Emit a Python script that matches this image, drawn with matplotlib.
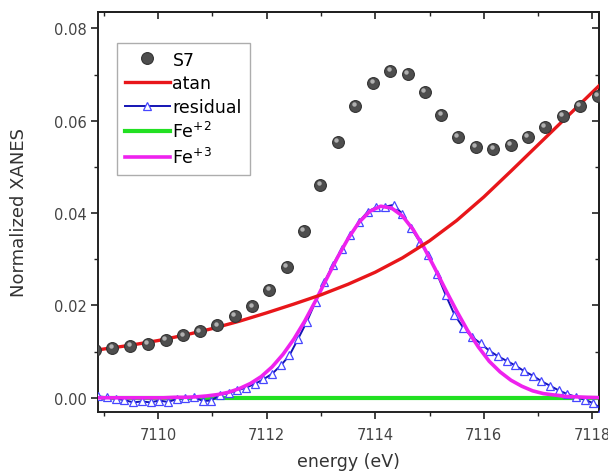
import matplotlib
matplotlib.use("Agg")
import matplotlib.pyplot as plt
from matplotlib.ticker import MultipleLocator
from matplotlib.transforms import offset_copy

plt.rcParams['font.family'] = ['DejaVu Sans']

# S7 data points
s7_e = [7108.83, 7109.15, 7109.49, 7109.81, 7110.14, 7110.46, 7110.77, 7111.09, 7111.41,
        7111.73, 7112.05, 7112.37, 7112.68, 7112.99, 7113.31, 7113.63, 7113.96, 7114.28,
        7114.60, 7114.91, 7115.22, 7115.52, 7115.85, 7116.17, 7116.50, 7116.81, 7117.12,
        7117.45, 7117.77, 7118.10]
s7_v = [0.0104, 0.0108, 0.0112, 0.0117, 0.0125, 0.0135, 0.0144, 0.0157, 0.0177,
        0.0198, 0.0233, 0.0284, 0.0361, 0.0462, 0.0555, 0.0632, 0.0683, 0.0709,
        0.0701, 0.0662, 0.0612, 0.0566, 0.0543, 0.0539, 0.0548, 0.0566, 0.0586,
        0.0610, 0.0632, 0.0654]

# atan background
atan_e = [7108.9, 7109.5, 7110.0, 7110.5, 7111.0, 7111.5, 7112.0, 7112.5, 7113.0, 7113.5,
          7114.0, 7114.5, 7115.0, 7115.5, 7116.0, 7116.5, 7117.0, 7117.5, 7118.0, 7118.15]
atan_v = [0.0104, 0.0114, 0.0124, 0.0136, 0.0150, 0.0166, 0.0184, 0.0203, 0.0223, 0.0246,
          0.0272, 0.0303, 0.0340, 0.0384, 0.0435, 0.0491, 0.0548, 0.0605, 0.0662, 0.0679]

# residual
res_e = [7108.90, 7109.06, 7109.22, 7109.38, 7109.54, 7109.70, 7109.86, 7110.02, 7110.18,
         7110.34, 7110.50, 7110.66, 7110.82, 7110.98, 7111.14, 7111.30, 7111.46, 7111.62,
         7111.78, 7111.94, 7112.10, 7112.26, 7112.42, 7112.58, 7112.74, 7112.90, 7113.06,
         7113.22, 7113.38, 7113.54, 7113.70, 7113.86, 7114.02, 7114.18, 7114.34, 7114.50,
         7114.66, 7114.82, 7114.98, 7115.14, 7115.30, 7115.46, 7115.62, 7115.78, 7115.94,
         7116.10, 7116.26, 7116.42, 7116.58, 7116.74, 7116.90, 7117.06, 7117.22, 7117.38,
         7117.54, 7117.70, 7117.86, 7118.02, 7118.18]
res_v = [0.0003, 0.0001, -0.0002, -0.0005, -0.0010, -0.0008, -0.0010, -0.0006, -0.0009,
         -0.0003, 0.0000, 0.0002, -0.0007, -0.0006, 0.0006, 0.0010, 0.0016, 0.0022,
         0.0030, 0.0040, 0.0052, 0.0070, 0.0092, 0.0128, 0.0165, 0.0208, 0.0250,
         0.0288, 0.0322, 0.0352, 0.0381, 0.0403, 0.0413, 0.0414, 0.0418, 0.0398,
         0.0368, 0.0338, 0.0310, 0.0268, 0.0222, 0.0180, 0.0152, 0.0132, 0.0118,
         0.0102, 0.0090, 0.0080, 0.0070, 0.0058, 0.0048, 0.0036, 0.0026, 0.0016,
         0.0008, 0.0002, -0.0004, -0.0012, -0.0025]

# Fe+2 component
fe2_e = [7108.9, 7118.2]
fe2_v = [0.0, 0.0]

# Fe+3 component
fe3_e = [7108.9, 7109.1, 7109.3, 7109.5, 7109.7, 7109.9, 7110.1, 7110.3, 7110.5, 7110.7,
         7110.9, 7111.1, 7111.3, 7111.5, 7111.7, 7111.9, 7112.1, 7112.3, 7112.5, 7112.7,
         7112.9, 7113.1, 7113.3, 7113.5, 7113.7, 7113.9, 7114.1, 7114.3, 7114.5, 7114.7,
         7114.9, 7115.1, 7115.3, 7115.5, 7115.7, 7115.9, 7116.1, 7116.3, 7116.5, 7116.7,
         7116.9, 7117.1, 7117.3, 7117.5, 7117.7, 7117.9, 7118.2]
fe3_v = [0.0, 0.0, 0.0, 0.0, 0.0, 0.0, 0.0, 0.0001, 0.0001, 0.0002,
         0.0004, 0.0007, 0.0012, 0.0020, 0.0031, 0.0046, 0.0067, 0.0094, 0.0127, 0.0166,
         0.0210, 0.0257, 0.0303, 0.0345, 0.0380, 0.0404, 0.0415, 0.0411, 0.0394, 0.0364,
         0.0325, 0.0280, 0.0233, 0.0188, 0.0146, 0.0110, 0.0079, 0.0056, 0.0038, 0.0025,
         0.0015, 0.0009, 0.0006, 0.0003, 0.0002, 0.0001, 0.0]

x_ticks = [7110, 7112, 7114, 7116, 7118]
y_ticks = [0.00, 0.02, 0.04, 0.06, 0.08]

fig = plt.figure(figsize=(6.08, 4.77), dpi=100)
ax = fig.add_axes([0.161, 0.134, 0.824, 0.839])

ax.plot(fe2_e, fe2_v, color='#22e022', lw=3, label='Fe$^{+2}$', zorder=2)
ax.plot(res_e, res_v, color='#1414b4', lw=1.4, marker='^', mfc='white', mec='#4646ff',
        ms=5.5, mew=0.9, label='residual', zorder=3)
ax.plot(fe3_e, fe3_v, color='#ee22ee', lw=2.6, label='Fe$^{+3}$', zorder=4)
ax.plot(atan_e, atan_v, color='#e8161a', lw=2.4, label='atan', zorder=5)
ax.plot(s7_e, s7_v, ls='none', marker='o', ms=8.5, mfc='#4e4e4e', mec='#333333', mew=0.8,
        label='S7', zorder=6)
hl = offset_copy(ax.transData, fig=fig, x=-1.5, y=1.8, units='dots')
ax.plot(s7_e, s7_v, ls='none', marker='o', ms=3.2, mfc='#b0b0b0', mec='none', zorder=7,
        transform=hl)

ax.set_xlim(7108.89, 7118.12)
ax.set_ylim(-0.0031, 0.0836)
ax.set_xticks(x_ticks)
ax.set_xticklabels([str(t) for t in x_ticks])
ax.set_yticks(y_ticks)
ax.set_yticklabels(['%.2f' % t for t in y_ticks])
ax.xaxis.set_minor_locator(MultipleLocator(1))
ax.yaxis.set_minor_locator(MultipleLocator(0.01))
ax.tick_params(which='both', direction='out', colors='#222222', labelcolor='#444444',
               labelsize=10.5)
ax.tick_params(axis='x', which='major', pad=6)
ax.tick_params(axis='y', which='major', pad=3)
ax.tick_params(which='major', length=5, width=1.2)
ax.tick_params(which='minor', length=3, width=1.0)
for s in ax.spines.values():
    s.set_linewidth(1.4)
    s.set_color('#222222')

secx = ax.secondary_xaxis('top')
secx.set_xticks(x_ticks)
secx.xaxis.set_minor_locator(MultipleLocator(1))
secx.tick_params(which='both', direction='in', labeltop=False, colors='#222222')
secx.tick_params(which='major', length=5, width=1.2)
secx.tick_params(which='minor', length=3, width=1.0)
secx.spines['top'].set_linewidth(1.4)
secy = ax.secondary_yaxis('right')
secy.set_yticks(y_ticks)
secy.yaxis.set_minor_locator(MultipleLocator(0.01))
secy.tick_params(which='both', direction='in', labelright=False, colors='#222222')
secy.tick_params(which='major', length=5, width=1.2)
secy.tick_params(which='minor', length=3, width=1.0)
secy.spines['right'].set_linewidth(1.4)

ax.set_xlabel('energy (eV)', fontsize=12.5, color='#333333')
ax.set_ylabel('Normalized XANES', fontsize=13, color='#333333')
ax.xaxis.set_label_coords(0.5, -0.100)
ax.yaxis.set_label_coords(-0.139, 0.5)

handles, labels = ax.get_legend_handles_labels()
order = [labels.index(l) for l in ['S7', 'atan', 'residual', 'Fe$^{+2}$', 'Fe$^{+3}$']]
leg = ax.legend([handles[i] for i in order], [labels[i] for i in order],
                loc='upper left', bbox_to_anchor=(0.038, 0.923), fontsize=12.5,
                frameon=True, fancybox=False, edgecolor='#999999', handlelength=2.6,
                handletextpad=0.15, borderpad=0.45, labelspacing=0.32, borderaxespad=0)
leg.get_frame().set_linewidth(1.0)

fig.savefig('out.png', dpi=100)
